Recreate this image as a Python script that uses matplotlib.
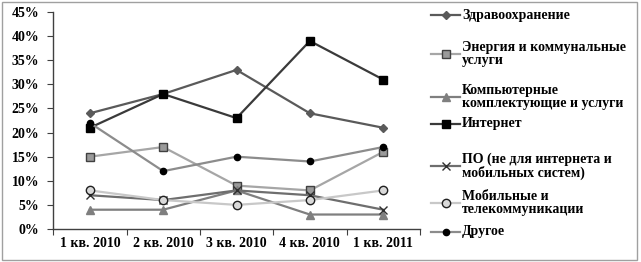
import matplotlib

matplotlib.use("Agg")
import matplotlib.pyplot as plt
from matplotlib.lines import Line2D
from matplotlib.patches import Rectangle
import numpy as np

quarters = ["1 кв. 2010", "2 кв. 2010", "3 кв. 2010", "4 кв. 2010", "1 кв. 2011"]

health = [24, 28, 33, 24, 21]
energy = [15, 17, 9, 8, 16]
computers = [4, 4, 8, 3, 3]
internet = [21, 28, 23, 39, 31]
software = [7, 6, 8, 7, 4]
mobile = [8, 6, 5, 6, 8]
other = [22, 12, 15, 14, 17]

labels = [
    "Здравоохранение",
    "Энергия и коммунальные\nуслуги",
    "Компьютерные\nкомплектующие и услуги",
    "Интернет",
    "ПО (не для интернета и\nмобильных систем)",
    "Мобильные и\nтелекоммуникации",
    "Другое",
]

# (линия, маркер, заливка, кромка, размер)
styles = [
    ("#5a5a5a", "D", "#5a5a5a", "#5a5a5a", 4.5),
    ("#a6a6a6", "s", "#9a9a9a", "#404040", 5.5),
    ("#7f7f7f", "^", "#7f7f7f", "#7f7f7f", 5.5),
    ("#3a3a3a", "s", "#000000", "#000000", 5.5),
    ("#6e6e6e", "x", "#303030", "#303030", 5.5),
    ("#c8c8c8", "o", "#d9d9d9", "#202020", 6),
    ("#8c8c8c", "o", "#000000", "#000000", 4.5),
]
series = [health, energy, computers, internet, software, mobile, other]

plt.rcParams["font.family"] = ["Liberation Serif", "DejaVu Serif"]
plt.rcParams["font.weight"] = "bold"

fig = plt.figure(figsize=(6.41, 2.62), dpi=100)
ax = fig.add_axes([0.083, 0.126, 0.572, 0.828])

x = np.arange(len(quarters))
for vals, (lc, mk, fc, ec, ms) in zip(series, styles):
    ax.plot(x, vals, color=lc, lw=1.6, marker=mk, markersize=ms,
            markerfacecolor=fc, markeredgecolor=ec, markeredgewidth=1.0)

ax.set_xlim(-0.5, len(quarters) - 0.5)
ax.set_ylim(0, 45)
ax.set_yticks(np.arange(0, 46, 5))
ax.set_yticklabels([f"{v}%" for v in range(0, 46, 5)], fontsize=10, fontweight="bold")
ax.set_xticks(np.arange(-0.5, len(quarters), 1.0))
ax.set_xticklabels([])
ax.set_xticks(x, minor=True)
ax.set_xticklabels(quarters, minor=True, fontsize=10, fontweight="bold")
ax.tick_params(axis="x", which="minor", length=0, pad=6)
ax.tick_params(axis="x", which="major", length=4, direction="out", color="#404040")
ax.tick_params(axis="y", length=4, direction="out", color="#404040", pad=6)
for s in ("top", "right"):
    ax.spines[s].set_visible(False)
for s in ("left", "bottom"):
    ax.spines[s].set_color("#404040")
    ax.spines[s].set_linewidth(1.0)

# легенда вручную (Excel-подобное расположение)
leg_y = [15, 54, 97, 124, 166, 203, 232]
x0, x1, xt = 431, 460, 462
W, H = 641, 262
for yy, lab, (lc, mk, fc, ec, ms) in zip(leg_y, labels, styles):
    yf = 1 - yy / H
    fig.add_artist(Line2D([x0 / W, (x0 + x1) / 2 / W, x1 / W], [yf, yf, yf],
                          transform=fig.transFigure, color=lc, lw=1.6,
                          marker=mk, markersize=ms, markevery=[1],
                          markerfacecolor=fc, markeredgecolor=ec,
                          markeredgewidth=1.0))
    fig.text(xt / W, yf, lab, fontsize=10, fontweight="bold", va="center",
             ha="left", linespacing=1.0)

fig.add_artist(Rectangle((0.003, 0.008), 0.99, 0.985, transform=fig.transFigure,
                         fill=False, edgecolor="#a0a0a0", lw=1.0))

fig.savefig("out.png", dpi=100)
